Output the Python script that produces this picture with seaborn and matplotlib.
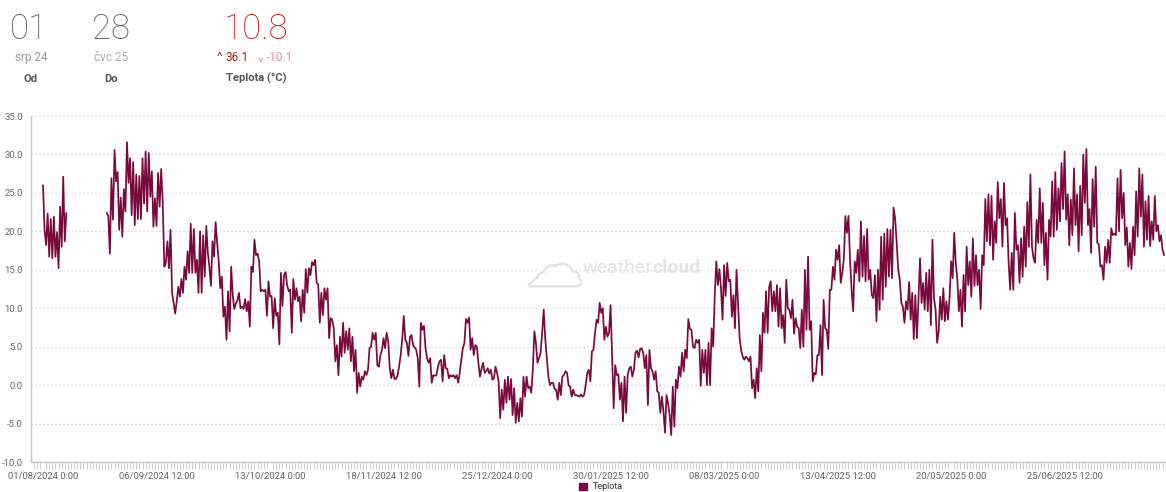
import matplotlib
matplotlib.use("Agg")
import pandas as pd
import matplotlib.pyplot as plt
import matplotlib.dates as mdates
import matplotlib.patheffects as pe
from matplotlib.ticker import FixedLocator, FormatStrFormatter
import seaborn as sns

# -------------------------------------------------
# Data: temperature readings (°C), 12-hour steps
# -------------------------------------------------
temp_aug_early = [26.0, 20.2, 18.2, 22.3, 16.7, 21.6, 16.5, 21.9, 16.7, 19.9, 15.2, 23.2,
                  18.0, 27.1, 18.7, 22.4]
temp_aug_late = [22.4, 22.0, 17.1, 26.9, 21.5, 30.6, 26.5, 27.7, 20.2, 24.4, 19.3, 25.5,
                 22.6, 31.6, 26.3, 29.5, 22.1, 29.0, 20.8, 27.4, 21.6, 27.2, 21.6, 29.5, 23.6]
temp_sep = [30.4, 22.6, 30.2, 24.5, 27.8, 20.6, 24.3, 20.7, 27.6, 23.2, 28.1, 23.7, 15.4,
            15.9, 18.7, 15.2, 20.2, 12.0, 10.7, 9.3, 10.9, 12.8, 11.5, 13.8, 12.0, 15.4,
            13.7, 17.4, 14.6, 21.0, 14.6, 20.3, 14.6, 16.3, 12.0, 20.0, 12.0, 19.5, 14.1,
            20.7, 17.2, 15.4, 12.9, 18.7, 16.7, 21.2, 18.5, 16.1, 12.6, 14.1, 8.9, 10.2,
            5.9, 12.2, 7.0, 15.4, 11.7, 9.9, 10.6, 11.0, 12.0, 10.0, 10.2, 9.9, 11.2, 9.6,
            10.9, 7.6, 15.4, 14.7, 18.9, 16.9, 17.1, 16.1, 12.2, 12.4]
temp_oct = [12.2, 12.4, 9.0, 13.5, 11.5, 11.6, 7.4, 11.3, 9.0, 9.4, 5.3, 14.6, 10.3, 14.3,
            14.7, 13.0, 12.2, 12.4, 6.8, 13.8, 11.1, 12.6, 10.9, 11.5, 8.3, 12.4, 9.4,
            15.1, 12.0, 15.2, 14.3, 16.0, 15.6, 16.3, 13.3, 13.1, 8.1, 12.0, 9.1, 12.6,
            11.1, 12.6, 6.1, 8.7, 8.5, 7.4, 3.1, 5.2, 1.3, 6.3, 3.7, 8.1, 4.2, 7.0, 4.6,
            7.4, 3.1, 6.3, 1.8, 4.6, -1.0, 1.6, -0.2, 1.1, 0.7, 1.8, 1.3, 2.0, 4.8, 5.0,
            6.8, 5.9, 6.8, 2.6]
temp_nov = [2.4, 3.9, 4.6, 6.1, 4.8, 6.8, 5.7, 2.2, 0.9, 2.0, 0.8, 0.8, 1.3, 2.4, 3.9,
            5.9, 9.0, 5.9, 5.5, 3.8, 6.3, 6.5, 5.2, 4.9, 4.6, 3.5, -0.2, 8.1, 7.2, 7.7,
            4.8, 3.5, 2.9, 3.5, 0.3, 1.3, 1.2, 1.3, 2.4, 3.1, 3.3, 0.5, 3.9, 2.2, 2.1,
            0.9, 1.3, 1.1, 1.3, 0.9, 1.3, 0.3, 1.6, 3.3, 4.8, 5.5, 8.6, 8.1, 8.8, 4.6,
            6.1, 3.9, 5.2, 5.0, 2.9, 1.1, 2.1, 2.9, 1.6, 1.8, 2.2, 1.5, 2.0, 0.7]
temp_dec = [0.9, 2.4, 1.6, 0.5, -4.3, -0.6, -3.2, 0.7, -2.3, 1.1, -1.9, 0.8, -3.9, -0.4,
            -4.9, -2.3, -4.7, -1.7, -4.1, 1.1, -1.5, 1.1, -0.4, -0.2, -1.0, 2.0, 7.0, 5.5,
            2.9, 3.5, 4.2, 6.8, 9.8, 6.0, 3.5, 1.1, 0.0, 0.3, 0.3, -0.5, -0.6, -1.9, 0.3,
            -1.3, 1.1, 1.3, 1.8, 1.6, 0.0, -0.2, -1.5, -0.6, -1.3, -1.3, -1.4, -1.5, -1.2,
            -1.5, -1.3, 0.0, 1.6, 2.0, 0.5, 4.4, 4.6, 6.8, 8.5, 8.1, 10.7, 9.4, 10.0, 5.9,
            7.6, 6.3]
temp_jan = [6.8, 10.4, 3.7, -3.0, 2.6, 1.3, 1.4, -1.9, 0.3, -4.7, 1.1, -3.6, 1.3, 2.2,
            2.4, 1.1, 2.0, 4.2, 4.5, 3.6, 4.7, 4.8, 4.2, 2.2, 3.9, -2.6, 4.6, 2.2, 1.8,
            0.7, 1.8, -0.8, -1.0, -3.6, -1.5, -3.4, -6.2, -1.3, -2.4, -3.9, -6.5, -0.2,
            -5.4, 0.7, -0.4, 2.4, 1.1, 4.2, 1.8, 4.6, 3.5, 8.6, 7.3, 7.2, 5.0, 4.8, 5.9,
            5.5, 5.9, -0.1, 4.6, 1.6, 4.6, 0.0, 5.5, 0.0, 7.4, 5.0, 11.7, 16.1, 13.0,
            15.1, 12.6, 8.5]
temp_mar = [15.6, 11.6, 15.9, 13.5, 13.7, 8.9, 11.7, 7.4, 15.0, 10.7, 6.1, 4.5, 3.7, 3.3,
            3.7, 3.5, 3.1, 3.7, -0.4, 0.7, -1.7, 2.2, -0.8, 6.5, 1.8, 9.4, 6.8, 12.2, 6.8,
            12.8, 13.5, 9.6, 12.2, 9.6, 13.0, 7.6, 12.6, 7.4, 9.1, 5.5, 13.7, 10.0, 9.8,
            8.7, 11.1, 6.7, 8.7, 7.6, 7.4, 4.8, 9.8, 5.0, 15.0, 7.2, 16.7, 7.2, 8.3, 0.5,
            1.6, 1.4, 3.9, 3.9, 7.8, 1.3, 11.1, 7.4, 7.2, 4.7, 12.4, 12.4, 15.4, 13.7,
            17.6, 16.3]
temp_apr = [18.2, 13.3, 14.6, 16.3, 22.0, 19.8, 22.0, 16.3, 12.5, 9.6, 16.1, 14.6, 17.6,
            13.5, 21.3, 14.1, 19.4, 13.5, 20.3, 13.7, 15.0, 11.7, 11.3, 14.3, 8.3, 15.0,
            9.8, 19.3, 11.1, 19.7, 12.8, 20.3, 14.1, 20.2, 13.9, 23.1, 21.7, 18.5, 15.0,
            13.7, 10.7, 10.2, 8.1, 10.9, 9.8, 13.4, 8.5, 12.0, 6.0, 11.7, 6.1, 11.0, 16.5,
            10.7, 13.3, 9.8, 14.6, 9.6, 15.0, 7.8, 18.9, 11.3, 9.8, 5.5, 7.0, 11.5, 8.5,
            12.6, 8.3, 10.9, 8.5, 11.3, 16.1, 13.9]
temp_may = [19.8, 15.9, 13.7, 9.6, 12.4, 7.6, 14.3, 9.6, 18.0, 13.0, 16.1, 11.5, 19.1,
            12.9, 16.9, 13.0, 15.0, 9.9, 16.9, 15.6, 24.2, 18.7, 24.8, 18.2, 24.6, 16.3,
            21.3, 18.5, 26.4, 21.7, 24.2, 18.0, 26.3, 20.8, 21.7, 15.9, 12.4, 17.2, 12.4,
            22.4, 17.6, 18.2, 13.3, 19.1, 14.1, 20.6, 15.4, 23.8, 18.0, 27.4, 18.0, 16.5,
            15.9, 21.5, 18.5, 25.6, 18.5, 23.7, 15.6, 19.8, 13.7, 21.5, 19.3, 26.5, 19.3,
            27.7, 20.2]
temp_jun = [25.6, 21.3, 28.9, 22.9, 30.4, 21.5, 24.8, 18.2, 24.1, 19.5, 28.2, 20.8, 24.8,
            17.4, 25.9, 19.5, 30.0, 23.7, 30.7, 20.8, 22.9, 17.2, 26.8, 20.6, 28.4, 18.5,
            18.3, 15.4, 15.6, 13.7, 18.0, 15.9, 18.9, 15.9, 20.4, 19.5, 19.7, 19.5, 26.9,
            20.0, 28.0, 21.7, 25.0, 18.2, 20.5, 15.4, 18.5, 15.1, 20.6, 16.9, 25.2, 19.3,
            28.2, 21.9, 27.4, 18.0, 23.9, 18.9, 24.6, 18.1, 21.3, 18.9, 24.6, 20.0, 20.8,
            18.7, 19.5, 17.6, 16.9]

chunk_starts = ["2024-08-01 00:00", "2024-08-21 12:00", "2024-09-03 00:00",
                "2024-10-11 00:00", "2024-11-17 00:00", "2024-12-24 00:00",
                "2025-01-30 00:00", "2025-03-08 00:00", "2025-04-14 00:00",
                "2025-05-21 00:00", "2025-06-23 12:00"]
chunk_values = [temp_aug_early, temp_aug_late, temp_sep, temp_oct, temp_nov, temp_dec,
                temp_jan, temp_mar, temp_apr, temp_may, temp_jun]
# station outage between 8 and 21 August -> separate line segment
chunk_segment = [0, 1, 1, 1, 1, 1, 1, 1, 1, 1, 1]

tick_dates = ["2024-08-01 00:00", "2024-09-06 12:00", "2024-10-13 00:00",
              "2024-11-18 12:00", "2024-12-25 00:00", "2025-01-30 12:00",
              "2025-03-08 00:00", "2025-04-13 12:00", "2025-05-20 00:00",
              "2025-06-25 12:00"]
tick_labels = ["01/08/2024 0:00", "06/09/2024 12:00", "13/10/2024 0:00",
               "18/11/2024 12:00", "25/12/2024 0:00", "30/01/2025 12:00",
               "08/03/2025 0:00", "13/04/2025 12:00", "20/05/2025 0:00",
               "25/06/2025 12:00"]
y_ticks = [-10, -5, 0, 5, 10, 15, 20, 25, 30, 35]

LINE = "#7a0a3e"
GRID = "#cfcfcf"
AXIS = "#c6c6c6"
TEXT = "#666666"

frames = []
for start, vals, seg in zip(chunk_starts, chunk_values, chunk_segment):
    t = pd.date_range(start, periods=len(vals), freq="12h")
    frames.append(pd.DataFrame({"time": t, "teplota": vals, "segment": seg}))
df = pd.concat(frames, ignore_index=True)

# -------------------------------------------------
# Style
# -------------------------------------------------
sns.set_theme(style="white")
plt.rcParams["font.family"] = ["Roboto", "DejaVu Sans"]

fig = plt.figure(figsize=(11.66, 4.92), dpi=100)
ax = fig.add_axes([31 / 1166, 30 / 492, 1135 / 1166, 346 / 492])

sns.lineplot(data=df, x="time", y="teplota", units="segment", estimator=None,
             color=LINE, linewidth=1.25, legend=False, ax=ax)

t0 = pd.Timestamp("2024-08-01")
ax.set_xlim(t0 - pd.Timedelta(days=3.86), t0 + pd.Timedelta(days=361.1))
ax.set_ylim(-10, 35)

ax.yaxis.set_major_locator(FixedLocator(y_ticks))
ax.yaxis.set_major_formatter(FormatStrFormatter("%.1f"))
ax.yaxis.grid(True, linestyle=(0, (1, 2.2)), color=GRID, linewidth=0.9)
ax.xaxis.grid(False)
ax.tick_params(axis="y", length=0, pad=6, labelsize=6.8, labelcolor=TEXT)

ax.set_xticks(mdates.date2num(pd.to_datetime(tick_dates)))
ax.set_xticklabels(tick_labels)
ax.xaxis.set_minor_locator(mdates.DayLocator())
ax.tick_params(axis="x", which="major", length=5, width=0.7, color=AXIS,
               pad=2, labelsize=6.8, labelcolor=TEXT)
ax.tick_params(axis="x", which="minor", length=5, width=0.6, color=AXIS, bottom=True)

ax.set_xlabel("")
ax.set_ylabel("")
for side in ["top", "right"]:
    ax.spines[side].set_visible(False)
for side in ["left", "bottom"]:
    ax.spines[side].set_color(AXIS)
    ax.spines[side].set_linewidth(1.0)

# watermark
fig.text(555 / 1166, 1 - 270 / 492, "\u2601", fontsize=40, color="white",
         ha="center", va="center", family=["DejaVu Sans"],
         path_effects=[pe.withStroke(linewidth=3.5, foreground="#e2e4e8")], zorder=0)
fig.text(652 / 1166, 1 - 268 / 492, "weather", fontsize=14, color="#e2e4e8",
         ha="right", va="center")
fig.text(652 / 1166, 1 - 268 / 492, "cloud", fontsize=14, color="#e2e4e8",
         ha="left", va="center", fontweight="bold")

# -------------------------------------------------
# Header
# -------------------------------------------------
def fy(px):
    return 1 - px / 492

fig.text(29 / 1166, fy(39), "01", fontsize=25, color="#5f5f5f", ha="center",
         va="baseline", fontweight="light")
fig.text(111 / 1166, fy(39), "28", fontsize=25, color="#5f5f5f", ha="center",
         va="baseline", fontweight="light")
fig.text(256 / 1166, fy(39), "10.8", fontsize=25, color="#c8191e", ha="center",
         va="baseline", fontweight="light")

fig.text(31 / 1166, fy(61), "srp 24", fontsize=8.5, color="#9a9a9a", ha="center", va="baseline")
fig.text(111 / 1166, fy(61), "čvc 25", fontsize=8.5, color="#b0b0b0", ha="center", va="baseline")
fig.text(216 / 1166, fy(65), "\u02c4", fontsize=11, color="#a3201c", ha="left",
         va="baseline", family=["DejaVu Sans"])
fig.text(226 / 1166, fy(61), "36.1", fontsize=8.5, color="#a3201c", ha="left", va="baseline")
fig.text(257 / 1166, fy(71), "\u02c5", fontsize=11, color="#e58a96", ha="left",
         va="baseline", family=["DejaVu Sans"])
fig.text(267 / 1166, fy(61), "-10.1", fontsize=8.5, color="#e58a96", ha="left", va="baseline")

for x, label in [(31, "Od"), (111, "Do"), (256, "Teplota (°C)")]:
    fig.text(x / 1166, fy(82), label, fontsize=8, color="#555555", ha="center",
             va="baseline", fontweight="bold")

# legend at the lower edge
fig.patches.append(plt.Rectangle((579 / 1166, 2 / 492), 8 / 1166, 7 / 492, color=LINE,
                                 transform=fig.transFigure, figure=fig))
fig.text(593 / 1166, fy(482), "Teplota", fontsize=6.5, color="#333333", ha="left", va="top")

fig.savefig("out.png", dpi=100)
plt.close(fig)
